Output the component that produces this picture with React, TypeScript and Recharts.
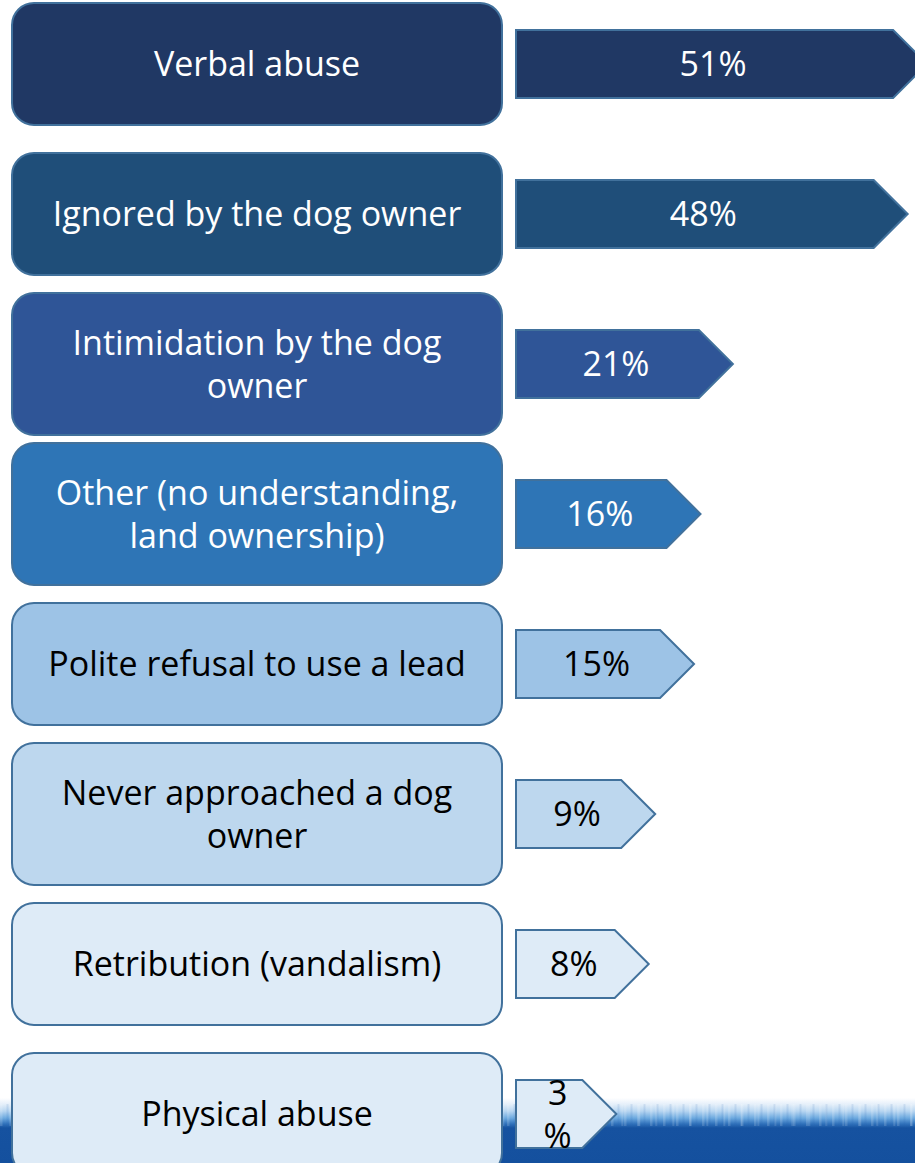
import React from "react";
import { BarChart, Bar, XAxis, YAxis } from "recharts";

// ---- data ----
const categories: string[] = [
  "Verbal abuse",
  "Ignored by the dog owner",
  "Intimidation by the dog\nowner",
  "Other (no understanding,\nland ownership)",
  "Polite refusal to use a lead",
  "Never approached a dog\nowner",
  "Retribution (vandalism)",
  "Physical abuse",
];
const values: number[] = [51, 48, 21, 16, 15, 9, 8, 3];
const valueLabels: string[] = ["51%", "48%", "21%", "16%", "15%", "9%", "8%", "3\n%"];

// ---- styles ----
const fills = ["#203864", "#1f4e79", "#2f5597", "#2e75b6", "#9dc3e6", "#bdd7ee", "#deebf7", "#deebf7"];
const textColors = ["#ffffff", "#ffffff", "#ffffff", "#ffffff", "#000000", "#000000", "#000000", "#000000"];
const STROKE = "#41719c";
const FONT = "'Open Sans', 'Noto Sans', sans-serif";
const FONT_SIZE = 34;
const LINE_H = 43;
const Y_AXIS_W = 516;

const data = categories.map((c, i) => ({ category: c, value: values[i], label: valueLabels[i] }));

function BoxTick(props: any) {
  const { y, payload } = props;
  const i: number = payload.index ?? props.index ?? 0;
  const lines = String(payload.value).split("\n");
  const h = lines.length > 1 ? 142 : 122;
  const x0 = 12;
  const w = 490;
  return (
    <g>
      <rect x={x0} y={y - h / 2} width={w} height={h} rx={22} ry={22} fill={fills[i]} stroke={STROKE} strokeWidth={2} />
      <text textAnchor="middle" fill={textColors[i]} fontFamily={FONT} fontSize={FONT_SIZE}>
        {lines.map((l, j) => (
          <tspan key={j} x={x0 + w / 2} y={y + (j - (lines.length - 1) / 2) * LINE_H + 12}>
            {l}
          </tspan>
        ))}
      </text>
    </g>
  );
}

function ArrowShape(props: any) {
  const { x, y, width, height, index, payload, background } = props;
  const left = background && typeof background.x === "number" ? background.x : Y_AXIS_W;
  const tip = x + width;
  const hh = height / 2;
  const bodyEnd = tip - hh;
  const d = `M${left},${y} L${bodyEnd},${y} L${tip},${y + hh} L${bodyEnd},${y + height} L${left},${y + height} Z`;
  const lines = String(payload.label).split("\n");
  const cx = (left + tip - hh / 2) / 2;
  const cy = y + hh;
  return (
    <g>
      <path d={d} fill={fills[index]} stroke={STROKE} strokeWidth={2} strokeLinejoin="miter" />
      <text textAnchor="middle" fill={textColors[index]} fontFamily={FONT} fontSize={FONT_SIZE}>
        {lines.map((l, j) => (
          <tspan key={j} x={cx} y={cy + (j - (lines.length - 1) / 2) * LINE_H + 12}>
            {l}
          </tspan>
        ))}
      </text>
    </g>
  );
}

export default function App() {
  return (
    <div style={{ position: "fixed", left: 0, top: 0, width: 915, height: 1163, overflow: "hidden", background: "#ffffff" }}>
      <div
        style={{
          position: "absolute",
          left: 0,
          top: 1098,
          width: 915,
          height: 65,
          background:
            "linear-gradient(to bottom, rgba(255,255,255,0) 0px, #e6f0fa 6px, #b8d6f1 13px, #6eaae0 20px, #2f70ba 26px, #1652a0 30px, #14509e 100%)",
        }}
      />
      <div
        style={{
          position: "absolute",
          left: 0,
          top: 1104,
          width: 915,
          height: 22,
          opacity: 0.6,
          background:
            "repeating-linear-gradient(90deg, rgba(255,255,255,0.25) 0px, rgba(255,255,255,0.25) 2px, rgba(255,255,255,0) 3px, rgba(255,255,255,0) 6px, rgba(40,100,180,0.2) 7px, rgba(40,100,180,0.2) 8px, rgba(255,255,255,0) 9px, rgba(255,255,255,0) 13px), repeating-linear-gradient(90deg, rgba(255,255,255,0) 0px, rgba(255,255,255,0) 9px, rgba(255,255,255,0.3) 10px, rgba(255,255,255,0) 12px, rgba(255,255,255,0) 17px)",
        }}
      />
      <div style={{ position: "absolute", left: 0, top: -20 }}>
        <BarChart
          width={960}
          height={1209}
          data={data}
          layout="vertical"
          margin={{ top: 9, right: 7, bottom: 0, left: 0 }}
        >
          <XAxis type="number" domain={[-12.5, 55]} hide />
          <YAxis
            type="category"
            dataKey="category"
            width={Y_AXIS_W}
            axisLine={false}
            tickLine={false}
            interval={0}
            tick={<BoxTick />}
          />
          <Bar dataKey="value" barSize={68} shape={<ArrowShape />} isAnimationActive={false} />
        </BarChart>
      </div>
    </div>
  );
}
